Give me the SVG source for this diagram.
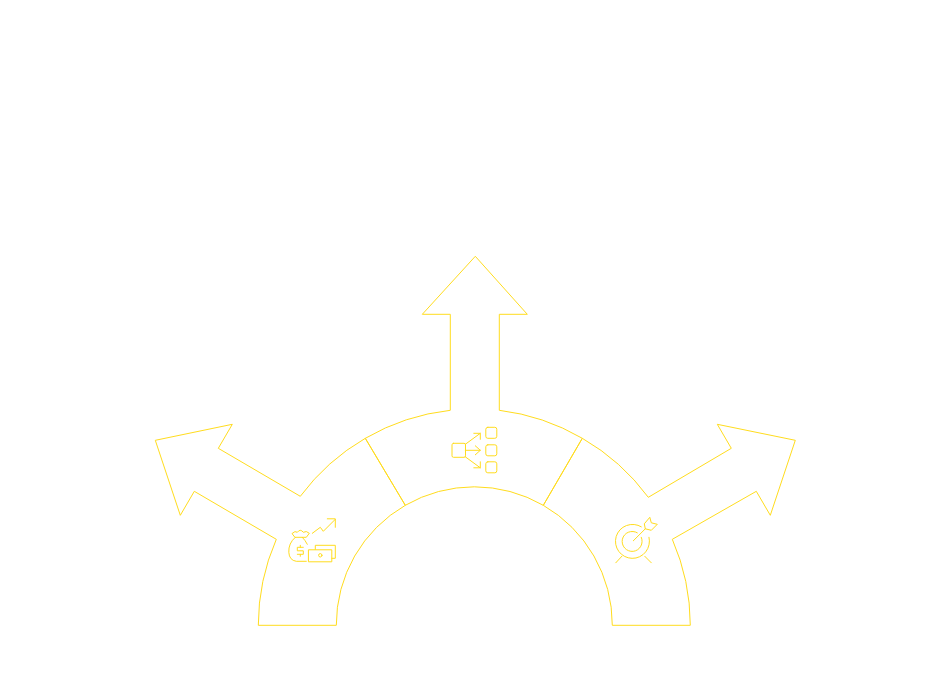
<svg xmlns="http://www.w3.org/2000/svg" width="948" height="697" viewBox="0 0 948 697">
<style>
.s{fill:none;stroke:#ffdc1e;stroke-width:1;stroke-linejoin:miter}
.i{fill:none;stroke:#ffdc1e;stroke-width:1;stroke-linejoin:round;stroke-linecap:round}
</style>
<rect width="948" height="697" fill="#fff"/>
<g id="node-left" transform="translate(0.3 0.3)">
<path class="s" d="M258 625A216 216 0 0 1 276 539L194 491L180 515L155 440L232 424L218 448L300 496A216 216 0 0 1 365 438L405 505A138 138 0 0 0 336 625Z"/>
<path class="i" d="M292 533Q295 530 297 532Q300 528 303 532Q306 530 309 533L306 537H295ZM295 537Q288 543 288.500 552Q289 560 296 561H306M302 537Q305 540 307 544"/>
<path class="i" d="M303 547H297V550.500H303V554H297M300 545V547M300 554V556"/>
<rect class="i" x="308.500" y="549.500" width="23" height="12"/>
<path class="i" d="M315 549V545H335V558H331.500"/>
<circle class="i" cx="320" cy="555" r="1.700"/>
<path class="i" d="M312 533L320 527L323 531L335 519M327 518.500H335V527"/>
</g>
<g id="node-center" transform="translate(0.3 0.3)">
<path class="s" d="M365 438A216 216 0 0 1 450 410V314H422L475 256L527 314H499V410A216 216 0 0 1 582 438L543 505A138 138 0 0 0 405 505Z"/>
<rect class="i" x="451.700" y="443" width="13.500" height="14" rx="1.500"/>
<rect class="i" x="485.500" y="427" width="11" height="11" rx="2"/>
<rect class="i" x="485.500" y="444.500" width="11" height="11" rx="2"/>
<rect class="i" x="485.500" y="461.500" width="11" height="11" rx="2"/>
<path class="i" d="M465 444L480 433M473.500 433H480V439M465 450H480M475 445.500L480 450L475 454.500M465 456.500L480 467.500M480 461.500V467.500H473.500"/>
</g>
<g id="node-right" transform="translate(0.3 0.3)">
<path class="s" d="M582 438A216 216 0 0 1 648 497L731 448L717 424L795 440L770 515L756 491L672 539A216 216 0 0 1 690 625H612A138 138 0 0 0 543 505Z"/>
<path class="i" d="M641 526.500A17 17 0 1 0 648.700 537M637 532.500A10 10 0 1 0 641 537"/>
<path class="i" d="M621.500 556L615.500 562.500M644.500 556L651 562.500M633 540.500L645 528.500L644 523.500L649.500 517L651 522.500L657 524L651 530L645 528.500"/>
</g>
<g id="connectors"/>
</svg>
